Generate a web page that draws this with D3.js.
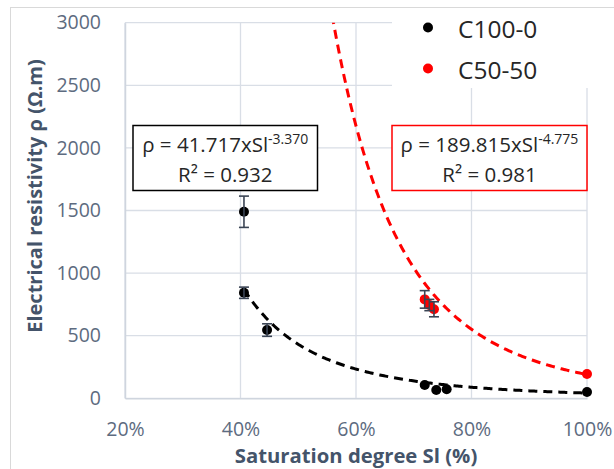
<!DOCTYPE html>
<html>
<head>
<meta charset="utf-8">
<script src="https://cdn.jsdelivr.net/npm/d3@7"></script>
<style>
  html, body { margin: 0; padding: 0; background: #fff; }
  svg { display: block; }
  text { font-family: "Open Sans", "Noto Sans", sans-serif; }
</style>
</head>
<body>
<svg id="chart" width="614" height="469"></svg>
<script>
// ---- Data ----
const c100X = [40.6, 40.6, 44.6, 71.9, 73.9, 75.7, 100];
const c100Y = [1490, 843, 545, 106, 66, 72, 50];
const c100Err = [125, 45, 50, 0, 0, 0, 0];

const c50X = [71.9, 72.7, 73.5, 100];
const c50Y = [790, 745, 711, 194];
const c50Err = [70, 45, 60, 0];

// power-law trendlines rho = a * Sl^b (from the chart's equations)
const c100Fit = [41.717, -3.370];
const c50Fit = [189.815, -4.775];
const c100FitRange = [40.6, 100];
const c50FitRange = [55, 100];

const xTicks = [20, 40, 60, 80, 100];
const yTicks = [0, 500, 1000, 1500, 2000, 2500, 3000];
const seriesNames = ["C100-0", "C50-50"];
const seriesColors = ["#000000", "#ff0000"];

// ---- Layout ----
const svg = d3.select("#chart");
const L = 125, R = 587, T = 22.7, B = 398.3;
const x = d3.scaleLinear().domain([20, 100]).range([L, R]);
const y = d3.scaleLinear().domain([0, 3000]).range([B, T]);

const gridColor = "#d9dee6";
const tickColor = "#5d6b80";
const titleColor = "#44546a";

// chart outer border
svg.append("rect").attr("x", 10.5).attr("y", 7.5).attr("width", 640).attr("height", 500)
  .attr("fill", "none").attr("stroke", "#d9d9d9").attr("stroke-width", 1);

// gridlines
svg.append("g").selectAll("line").data(yTicks).join("line")
  .attr("x1", L).attr("x2", R).attr("y1", d => y(d)).attr("y2", d => y(d))
  .attr("stroke", gridColor).attr("stroke-width", 1.3);
svg.append("g").selectAll("line").data(xTicks).join("line")
  .attr("x1", d => x(d)).attr("x2", d => x(d)).attr("y1", T).attr("y2", B)
  .attr("stroke", gridColor).attr("stroke-width", 1.3);

// axes via d3
const yAxis = svg.append("g").attr("transform", `translate(${L},0)`)
  .call(d3.axisLeft(y).tickValues(yTicks).tickSize(0).tickPadding(24).tickFormat(d3.format("d")));
const xAxis = svg.append("g").attr("transform", `translate(0,${B})`)
  .call(d3.axisBottom(x).tickValues(xTicks).tickSize(0).tickPadding(24).tickFormat(d => d + "%"));
[yAxis, xAxis].forEach(g => {
  g.select(".domain").attr("stroke", "#cfd5de").attr("stroke-width", 1.5);
  g.selectAll("text").attr("fill", tickColor).attr("font-size", 19.5)
    .attr("font-family", "'Open Sans', sans-serif");
});

// axis titles
svg.append("text").attr("x", 356).attr("y", 463).attr("text-anchor", "middle")
  .attr("font-size", 20.3).attr("font-weight", "bold").attr("fill", titleColor)
  .text("Saturation degree Sl (%)");
svg.append("text").attr("transform", "translate(42,196) rotate(-90)").attr("text-anchor", "middle")
  .attr("font-size", 20).attr("font-weight", "bold").attr("fill", titleColor)
  .text("Electrical resistivity ρ (Ω.m)");

// clip
svg.append("clipPath").attr("id", "clip").append("rect")
  .attr("x", L).attr("y", T).attr("width", R - L).attr("height", B - T);

// legend background (covers gridlines)
svg.append("rect").attr("x", 392).attr("y", 9).attr("width", 230).attr("height", 79).attr("fill", "#fff");

// trendlines
function fitPoints(fit, range) {
  return d3.range(range[0], range[1] + 0.001, 0.25).map(s => [s, fit[0] * Math.pow(s / 100, fit[1])]);
}
const line = d3.line().x(d => x(d[0])).y(d => y(d[1]));
const plot = svg.append("g").attr("clip-path", "url(#clip)");
plot.append("path").datum(fitPoints(c50Fit, c50FitRange)).attr("d", line)
  .attr("fill", "none").attr("stroke", "#ff0000").attr("stroke-width", 3).attr("stroke-dasharray", "9,6");
plot.append("path").datum(fitPoints(c100Fit, c100FitRange)).attr("d", line)
  .attr("fill", "none").attr("stroke", "#000").attr("stroke-width", 3).attr("stroke-dasharray", "9,6");

// series: points + error bars
function drawSeries(xs, ys, errs, color) {
  const g = svg.append("g");
  const data = xs.map((v, i) => ({ x: v, y: ys[i], e: errs[i] }));
  data.forEach(d => {
    g.append("circle").attr("cx", x(d.x)).attr("cy", y(d.y)).attr("r", 5).attr("fill", color);
  });
  const eb = data.filter(d => d.e > 0);
  const eg = svg.append("g").attr("stroke", "#3a4454").attr("stroke-width", 1.6);
  eb.forEach(d => {
    eg.append("line").attr("x1", x(d.x)).attr("x2", x(d.x)).attr("y1", y(d.y + d.e)).attr("y2", y(d.y - d.e));
    [d.y + d.e, d.y - d.e].forEach(v => {
      eg.append("line").attr("x1", x(d.x) - 5).attr("x2", x(d.x) + 5).attr("y1", y(v)).attr("y2", y(v));
    });
  });
}
drawSeries(c50X, c50Y, c50Err, seriesColors[1]);
drawSeries(c100X, c100Y, c100Err, seriesColors[0]);

// legend
seriesNames.forEach((n, i) => {
  const cy = 27.5 + i * 41;
  svg.append("circle").attr("cx", 428).attr("cy", cy).attr("r", 5).attr("fill", seriesColors[i]);
  svg.append("text").attr("x", 458).attr("y", cy + 2).attr("dy", "0.35em")
    .attr("font-size", 24.5).attr("fill", "#262626").text(n);
});

// equation boxes
function eqBox(x0, x1, color, a, b, r2) {
  svg.append("rect").attr("x", x0).attr("y", 125.5).attr("width", x1 - x0).attr("height", 65)
    .attr("fill", "#fff").attr("stroke", color).attr("stroke-width", 1.5);
  const cx = (x0 + x1) / 2;
  const t = svg.append("text").attr("x", cx).attr("y", 152).attr("text-anchor", "middle")
    .attr("font-size", 20.5).attr("fill", "#262626");
  t.append("tspan").text(`ρ = ${a}xSl`);
  t.append("tspan").attr("dy", -8).attr("font-size", 14).text(b);
  svg.append("text").attr("x", cx).attr("y", 182).attr("text-anchor", "middle")
    .attr("font-size", 20.5).attr("fill", "#262626").text(`R² = ${r2}`);
}
eqBox(133, 317.5, "#000", "41.717", "-3.370", "0.932");
eqBox(392, 587, "#ff0000", "189.815", "-4.775", "0.981");
</script>
</body>
</html>
